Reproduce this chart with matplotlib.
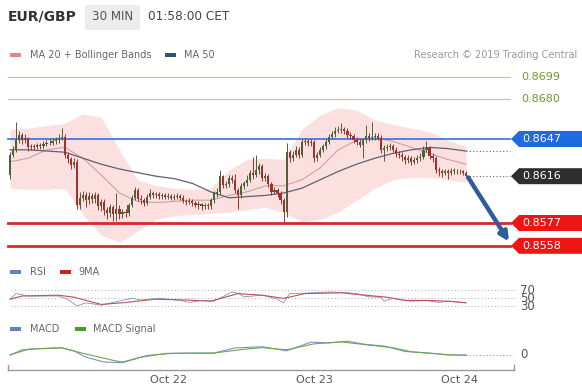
import matplotlib
matplotlib.use("Agg")
import matplotlib.pyplot as plt
from matplotlib.patches import Polygon, Rectangle, FancyArrowPatch
from matplotlib.lines import Line2D

W, H = 582, 388
BAR_PX = 3.04   # width of one 30 min bar in pixels
X0 = 10         # pixel position of the first bar
PX_PER_PRICE = 12000.0  # vertical scale of the price panel

# ---------------- data ----------------
first_open = 0.8617
close = [
    0.8634, 0.8638, 0.8646, 0.8650, 0.8646, 0.8648, 0.8640, 0.8641, 0.86405, 0.8642,
    0.8641, 0.8643, 0.86435, 0.8644, 0.8645, 0.8646, 0.8648, 0.8649, 0.8634, 0.8630,
    0.8625, 0.8628, 0.8592, 0.8598, 0.8600, 0.8596, 0.85995, 0.8597, 0.8600, 0.8591,
    0.85945, 0.8588, 0.8585, 0.8590, 0.85845, 0.8589, 0.85845, 0.8586, 0.8585, 0.8592,
    0.8598, 0.86045, 0.8597, 0.8596, 0.85935, 0.8599, 0.8602, 0.8600, 0.8601, 0.85995,
    0.8600, 0.8599, 0.85995, 0.8598, 0.8599, 0.85995, 0.8598, 0.85955, 0.85945, 0.85955,
    0.85935, 0.8592, 0.8593, 0.8591, 0.8592, 0.8591, 0.8596, 0.8602, 0.8603, 0.8616,
    0.8609, 0.86095, 0.86145, 0.8613, 0.86045, 0.8600, 0.8608, 0.8610, 0.8613, 0.8619,
    0.8617, 0.8621, 0.86245, 0.86145, 0.8616, 0.86095, 0.8603, 0.86045, 0.8602, 0.8596,
    0.8586, 0.8636, 0.8631, 0.8634, 0.8638, 0.8634, 0.86445, 0.8645, 0.86435, 0.86445,
    0.8631, 0.8634, 0.8638, 0.8641, 0.86445, 0.8649, 0.8651, 0.8654, 0.86545, 0.8655,
    0.8654, 0.8650, 0.86495, 0.8646, 0.86445, 0.8642, 0.8646, 0.86495, 0.8648, 0.8649,
    0.86495, 0.8648, 0.8638, 0.86395, 0.8640, 0.8641, 0.8638, 0.86345, 0.8634, 0.8632,
    0.86295, 0.8631, 0.8628, 0.86295, 0.8631, 0.8632, 0.8638, 0.86395, 0.8633, 0.8631,
    0.8621, 0.8620, 0.8619, 0.8620, 0.86185, 0.86205, 0.86205, 0.8620, 0.8620, 0.8619,
    0.8616]
high = [
    0.8636, 0.8641, 0.8661, 0.8654, 0.8652, 0.8651, 0.8649, 0.8643, 0.8643, 0.8644,
    0.8644, 0.8645, 0.8646, 0.8647, 0.8648, 0.8649, 0.8651, 0.8656, 0.8651, 0.8636,
    0.8632, 0.8631, 0.8630, 0.8603, 0.8604, 0.8603, 0.8603, 0.8602, 0.8603, 0.8602,
    0.8597, 0.8597, 0.8590, 0.8593, 0.8592, 0.8602, 0.8592, 0.8589, 0.8589, 0.8594,
    0.8600, 0.8607, 0.8606, 0.8600, 0.8598, 0.8601, 0.8605, 0.8604, 0.8603, 0.8603,
    0.8602, 0.8602, 0.8602, 0.8601, 0.8601, 0.8602, 0.8601, 0.8600, 0.8597, 0.8598,
    0.8597, 0.8595, 0.8595, 0.8594, 0.8594, 0.8594, 0.8598, 0.8604, 0.8606, 0.8621,
    0.8617, 0.8612, 0.8617, 0.8617, 0.8618, 0.8606, 0.8610, 0.8612, 0.8617, 0.8621,
    0.8632, 0.8634, 0.8627, 0.8626, 0.8619, 0.8618, 0.8611, 0.8607, 0.8606, 0.8604,
    0.8598, 0.8644, 0.8638, 0.8637, 0.8641, 0.8640, 0.8647, 0.8648, 0.8647, 0.8647,
    0.8646, 0.8636, 0.8640, 0.8643, 0.8647, 0.8651, 0.8654, 0.8657, 0.8658, 0.8660,
    0.8657, 0.8656, 0.8653, 0.8651, 0.8649, 0.8647, 0.8648, 0.8659, 0.8652, 0.8661,
    0.8652, 0.8652, 0.8650, 0.8642, 0.8643, 0.8644, 0.8643, 0.8640, 0.8637, 0.8636,
    0.8634, 0.8634, 0.8633, 0.8632, 0.8634, 0.8635, 0.8641, 0.8645, 0.8641, 0.8635,
    0.8633, 0.8624, 0.8622, 0.8622, 0.8622, 0.8623, 0.8623, 0.8622, 0.8622, 0.8621,
    0.8620]
low = [
    0.8614, 0.8632, 0.8636, 0.8644, 0.8643, 0.8644, 0.8637, 0.8638, 0.8638, 0.8639,
    0.8639, 0.8639, 0.8641, 0.8642, 0.8642, 0.8643, 0.8644, 0.8646, 0.8631, 0.8627,
    0.8622, 0.8623, 0.8589, 0.8589, 0.8595, 0.8590, 0.8593, 0.8594, 0.8594, 0.8588,
    0.8587, 0.8584, 0.8580, 0.8582, 0.8579, 0.8579, 0.8580, 0.8581, 0.8582, 0.8583,
    0.8590, 0.8596, 0.8595, 0.8593, 0.8591, 0.8592, 0.8597, 0.8598, 0.8598, 0.8597,
    0.8597, 0.8597, 0.8597, 0.8596, 0.8596, 0.8597, 0.8596, 0.8594, 0.8592, 0.8593,
    0.8591, 0.8590, 0.8589, 0.8588, 0.8589, 0.8589, 0.8589, 0.8594, 0.8599, 0.8601,
    0.8606, 0.8606, 0.8607, 0.8610, 0.8602, 0.8589, 0.8598, 0.8605, 0.8608, 0.8611,
    0.8614, 0.8615, 0.8618, 0.8612, 0.8612, 0.8607, 0.8600, 0.8601, 0.8599, 0.8593,
    0.8578, 0.8582, 0.8628, 0.8629, 0.8632, 0.8631, 0.8632, 0.8642, 0.8641, 0.8641,
    0.8628, 0.8629, 0.8632, 0.8636, 0.8639, 0.8643, 0.8647, 0.8649, 0.8652, 0.8652,
    0.8651, 0.8648, 0.8647, 0.8644, 0.8642, 0.8640, 0.8631, 0.8644, 0.8645, 0.8646,
    0.8646, 0.8646, 0.8635, 0.8629, 0.8637, 0.8638, 0.8636, 0.8632, 0.8631, 0.8629,
    0.8626, 0.8627, 0.8625, 0.8626, 0.8627, 0.8629, 0.8630, 0.8636, 0.8630, 0.8628,
    0.8619, 0.8616, 0.8615, 0.8617, 0.8614, 0.8617, 0.8618, 0.8618, 0.8618, 0.8617,
    0.8615]

# indicator curves sampled every 6 bars
ind_bars = list(range(0, 151, 6))
ma20 = [0.8628, 0.8631, 0.8638, 0.8640, 0.8631, 0.8617, 0.8602, 0.8595, 0.8594, 0.8595,
        0.8596, 0.8596, 0.8600, 0.8603, 0.8608, 0.8608, 0.8613, 0.8623, 0.8638, 0.8646,
        0.8648, 0.8645, 0.8640, 0.8635, 0.8630, 0.8626]
bb_upper = [0.8655, 0.8656, 0.8658, 0.8660, 0.8668, 0.8665, 0.8638, 0.8613, 0.8608, 0.8606,
            0.8605, 0.8606, 0.8621, 0.8630, 0.8631, 0.8630, 0.8655, 0.8667, 0.8673, 0.8671,
            0.8663, 0.8659, 0.8656, 0.8653, 0.8646, 0.8641]
bb_lower = [0.8606, 0.8605, 0.8605, 0.8606, 0.8584, 0.8567, 0.8561, 0.8570, 0.8580, 0.8583,
            0.8584, 0.8585, 0.8586, 0.8588, 0.8590, 0.8586, 0.8578, 0.8580, 0.8586, 0.8596,
            0.8606, 0.8613, 0.8615, 0.8615, 0.8613, 0.8611]
ma50 = [0.8638, 0.8638, 0.8637, 0.8636, 0.8631, 0.8626, 0.8622, 0.8619, 0.8616, 0.8614,
        0.8610, 0.8603, 0.8598, 0.8599, 0.8600, 0.8602, 0.8606, 0.8613, 0.8620, 0.8626,
        0.8631, 0.8635, 0.8638, 0.8640, 0.8639, 0.8637]

resistances = [0.8699, 0.8680]
pivot = 0.8647
last_price = 0.8616
supports = [0.8577, 0.8558]

rsi_bars = [0, 2, 6, 16, 19, 22, 25, 30, 34, 40, 43, 49, 56, 59, 63, 67, 70, 73, 75, 77,
            83, 88, 90, 92, 97, 105, 111, 114, 118, 122, 123, 126, 129, 132, 137, 141, 145, 150]
rsi_vals = [47, 61, 55, 55, 47, 30, 38, 32, 39, 49, 45, 49, 44, 39, 44, 42, 53, 65, 62, 53,
            57, 47, 38, 61, 62, 65, 63, 61, 53, 52, 42, 49, 45, 42, 44, 39, 42, 38]
rsi_ma_bars = [0, 4, 16, 21, 30, 37, 48, 58, 66, 75, 83, 90, 97, 109, 117, 124, 130, 137, 144, 150]
rsi_ma_vals = [47, 55, 57, 52, 34, 38, 47, 45, 42, 61, 57, 49, 61, 63, 57, 52, 44, 44, 42, 38]
rsi_levels = [70, 50, 30]

# MACD in pips (1e-4)
macd_bars = [0, 4, 9, 17, 21, 25, 31, 37, 43, 51, 58, 67, 74, 83, 91, 99, 105, 111, 117, 123,
             130, 138, 144, 150]
macd_vals = [0, 4.3, 5.3, 6.1, 3.5, -1.9, -5.9, -6.4, -1.9, 1.3, 1.6, 1.6, 5.9, 6.9, 3.5,
             10.7, 10.1, 11.5, 8.8, 7.5, 2.9, 1.6, 0, 0]
signal_bars = [0, 6, 17, 25, 34, 37, 45, 53, 67, 77, 83, 91, 100, 109, 118, 126, 132, 144, 150]
signal_vals = [0, 4.8, 5.9, 0.8, -4.5, -5.9, -0.5, 1.3, 1.6, 4.8, 6.1, 4.3, 9.3, 10.9, 8.3,
               6.1, 2.7, 0.3, -0.3]

date_bars = [52, 100, 148]
date_labels = ["Oct 22", "Oct 23", "Oct 24"]


def px2bar(x):
    return (x - X0) / BAR_PX


def fx(x):
    return x / W


def fy(y):
    return 1 - y / H


def panel(fig, top, bottom):
    ax = fig.add_axes([0, fy(bottom), 1, (bottom - top) / H])
    ax.set_xlim(px2bar(0), px2bar(W))
    ax.axis("off")
    return ax


fig = plt.figure(figsize=(W / 100, H / 100), dpi=100)
fig.patch.set_facecolor("white")

# ---------------- header ----------------
fig.text(fx(8), fy(17), "EUR/GBP", fontsize=10, fontweight="bold", color="#333333", va="center")
fig.patches.append(Rectangle((fx(85), fy(30)), fx(55), 25 / H, transform=fig.transFigure,
                             facecolor="#ececec", edgecolor="none"))
fig.text(fx(92), fy(17), "30 MIN", fontsize=8.6, color="#555555", va="center")
fig.text(fx(148), fy(17), "01:58:00 CET", fontsize=8.7, color="#444444", va="center")

# legend row
fig.patches.append(Rectangle((fx(10), fy(57)), fx(11), 4 / H, transform=fig.transFigure,
                             facecolor="#e8868c", edgecolor="none"))
fig.text(fx(30), fy(55), "MA 20 + Bollinger Bands", fontsize=7, color="#666666", va="center")
fig.patches.append(Rectangle((fx(165), fy(57)), fx(11), 4 / H, transform=fig.transFigure,
                             facecolor="#2f5578", edgecolor="none"))
fig.text(fx(184), fy(55), "MA 50", fontsize=7, color="#666666", va="center")
fig.text(fx(577), fy(55), "Research \u00a9 2019 Trading Central", fontsize=7, color="#999999",
         va="center", ha="right")

# ---------------- price panel ----------------
top, bottom = 62, 258
ax = panel(fig, top, bottom)
ax.set_ylim(pivot - (bottom - 139) / PX_PER_PRICE, pivot + (139 - top) / PX_PER_PRICE)

ax.fill_between(ind_bars, bb_lower, bb_upper, color="#fce0e0", lw=0, zorder=1)
ax.plot(ind_bars, ma20, color="#c9a3a3", lw=0.8, zorder=2)
ax.plot(ind_bars, ma50, color="#5b6272", lw=0.9, zorder=2)

line_x0, line_x1 = px2bar(8), px2bar(510)
for lvl in resistances:
    ax.plot([line_x0, line_x1], [lvl, lvl], color="#b9c79f", lw=0.8, zorder=2)
    ax.text(px2bar(521), lvl, f"{lvl:.4f}", color="#6e9a2e", fontsize=8, va="center")
ax.plot([line_x0, line_x1], [pivot, pivot], color="#3b6fd6", lw=1.2, zorder=2)
for lvl in supports:
    ax.plot([line_x0, line_x1], [lvl, lvl], color="#d42a2a", lw=2, zorder=2)

n = len(close)
opens = [first_open] + close[:-1]
ax.plot([n - 1, line_x1], [last_price, last_price], color="#666666", lw=0.8,
        ls=(0, (1, 2)), zorder=2)
ax.plot([n - 1, line_x1], [ma50[-1], ma50[-1]], color="#666666", lw=0.8,
        ls=(0, (1, 2)), zorder=2)

# candles
for i in range(n):
    o, c = opens[i], close[i]
    col = "#4c6238" if c >= o else "#a3302e"
    ax.vlines(i, low[i], high[i], color=col, lw=0.7, zorder=3)
    ax.bar(i, max(abs(c - o), 0.00003), bottom=min(o, c), width=0.7, color=col,
           lw=0, zorder=4)

# price tags at the right
half = 8 / PX_PER_PRICE
tip, shoulder, right = px2bar(511), px2bar(519), px2bar(W + 2)
tags = [(pivot, "#1f6ae0"), (last_price, "#2e2e2e")] + [(s, "#ee1515") for s in supports]
for lvl, col in tags:
    ax.add_patch(Polygon([(tip, lvl), (shoulder, lvl + half), (right, lvl + half),
                          (right, lvl - half), (shoulder, lvl - half)],
                         closed=True, facecolor=col, edgecolor="none", zorder=5, clip_on=False))
    ax.text(px2bar(522), lvl, f"{lvl:.4f}", color="white", fontsize=8, va="center", zorder=6)

# forecast arrow
ax.add_patch(FancyArrowPatch((n - 0.3, close[-1] - 0.0001), (px2bar(509), supports[1] + 0.00035),
                             arrowstyle="-|>", mutation_scale=13, lw=3.2, color="#2d5f96",
                             shrinkA=0, shrinkB=0, zorder=6))

# ---------------- RSI panel ----------------
fig.patches.append(Rectangle((fx(10), fy(274)), fx(11), 4 / H, transform=fig.transFigure,
                             facecolor="#5f80c4", edgecolor="none"))
fig.text(fx(30), fy(272), "RSI", fontsize=7, color="#666666", va="center")
fig.patches.append(Rectangle((fx(60), fy(274)), fx(11), 4 / H, transform=fig.transFigure,
                             facecolor="#d42020", edgecolor="none"))
fig.text(fx(78), fy(272), "9MA", fontsize=7, color="#666666", va="center")

top, bottom = 283, 312
rax = panel(fig, top, bottom)
rax.set_ylim(30 - (bottom - 306) / 0.4, 70 + (290 - top) / 0.4)
for lvl in rsi_levels:
    rax.plot([px2bar(11), px2bar(515)], [lvl, lvl], color="#bbbbbb", lw=0.8, ls=(0, (1, 2)))
    rax.text(px2bar(520), lvl, str(lvl), fontsize=8.5, color="#555555", va="center")
rax.plot(rsi_bars, rsi_vals, color="#7b93c9", lw=0.6)
rax.plot(rsi_ma_bars, rsi_ma_vals, color="#c0505a", lw=0.8)

# ---------------- MACD panel ----------------
fig.patches.append(Rectangle((fx(10), fy(331)), fx(11), 4 / H, transform=fig.transFigure,
                             facecolor="#5f80c4", edgecolor="none"))
fig.text(fx(30), fy(329), "MACD", fontsize=7, color="#666666", va="center")
fig.patches.append(Rectangle((fx(75), fy(331)), fx(11), 4 / H, transform=fig.transFigure,
                             facecolor="#4a9a2a", edgecolor="none"))
fig.text(fx(93), fy(329), "MACD Signal", fontsize=7, color="#666666", va="center")

top, bottom = 335, 370
max_ = panel(fig, top, bottom)
max_.set_ylim(-(bottom - 355) / 1.2, (355 - top) / 1.2)
max_.plot([n - 1, px2bar(513)], [0, 0], color="#999999", lw=0.8, ls=(0, (1, 2)))
max_.text(px2bar(520), 0, "0", fontsize=8.5, color="#555555", va="center")
max_.plot(macd_bars, macd_vals, color="#7b93c9", lw=0.8)
max_.plot(signal_bars, signal_vals, color="#6aaa4a", lw=0.8)

# ---------------- time axis ----------------
fig.lines.append(Line2D([fx(8), fx(514)], [fy(370), fy(370)], transform=fig.transFigure,
                        color="#999999", lw=1))
for xe in (8, 514):
    fig.lines.append(Line2D([fx(xe), fx(xe)], [fy(370), fy(365)], transform=fig.transFigure,
                            color="#999999", lw=1))
for b, lab in zip(date_bars, date_labels):
    fig.text(fx(X0 + b * BAR_PX), fy(380), lab, fontsize=8, color="#555555",
             ha="center", va="center")

fig.savefig("out.png", dpi=100)
